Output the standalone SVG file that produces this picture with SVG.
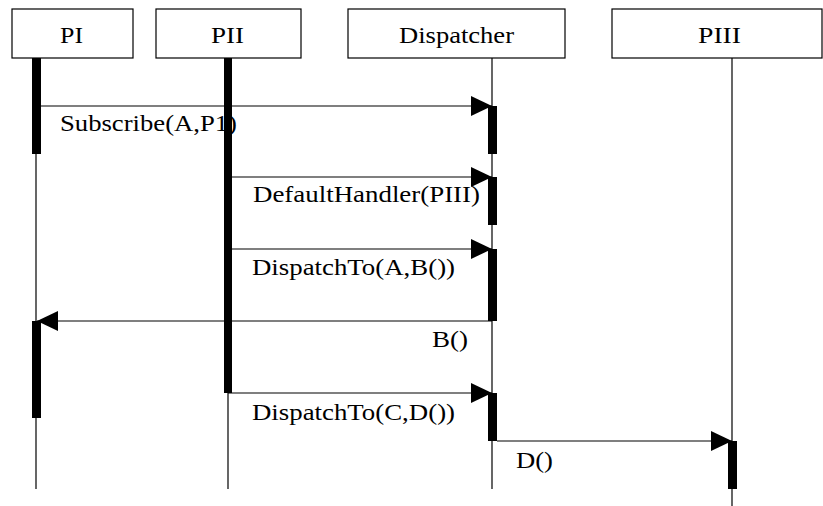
<svg xmlns="http://www.w3.org/2000/svg" width="823" height="506" viewBox="0 0 823 506">
<style>
.box{fill:#fff;stroke:#000;stroke-width:1.2}
.life{stroke:#000;stroke-width:1.2;fill:none}
.act{fill:#000}
.msg{stroke:#000;stroke-width:1.2;fill:none;marker-end:url(#ah)}
text{font-family:"Liberation Serif","Times New Roman",serif;font-size:24px;fill:#000}
</style>
<defs>
<marker id="ah" markerUnits="userSpaceOnUse" markerWidth="22" markerHeight="22" refX="21" refY="10" orient="auto" viewBox="0 0 22 20">
<path d="M0,0 L21,10 L0,20 z" fill="#000"/>
</marker>
</defs>
<rect width="823" height="506" fill="#fff"/>
<g id="PI">
<rect class="box" x="12" y="9" width="121" height="49"/>
<text x="60" y="43" textLength="23" lengthAdjust="spacingAndGlyphs">PI</text>
<line class="life" x1="36" y1="58" x2="36" y2="489"/>
<rect class="act" x="32" y="58" width="9" height="96"/>
<rect class="act" x="32" y="321" width="9" height="97"/>
</g>
<g id="PII">
<rect class="box" x="156" y="9" width="145" height="49"/>
<text x="211" y="43" textLength="33" lengthAdjust="spacingAndGlyphs">PII</text>
<line class="life" x1="228" y1="58" x2="228" y2="489"/>
<rect class="act" x="224" y="58" width="8" height="335"/>
</g>
<g id="Dispatcher">
<rect class="box" x="348" y="9" width="217" height="49"/>
<text x="399" y="43" textLength="115" lengthAdjust="spacingAndGlyphs">Dispatcher</text>
<line class="life" x1="492" y1="58" x2="492" y2="489"/>
<rect class="act" x="488" y="106" width="9" height="48"/>
<rect class="act" x="488" y="177" width="9" height="48"/>
<rect class="act" x="488" y="249" width="9" height="72"/>
<rect class="act" x="488" y="393" width="9" height="48"/>
</g>
<g id="PIII">
<rect class="box" x="612" y="9" width="210" height="49"/>
<text x="698" y="43" textLength="43" lengthAdjust="spacingAndGlyphs">PIII</text>
<line class="life" x1="732" y1="58" x2="732" y2="506"/>
<rect class="act" x="728" y="441" width="9" height="48"/>
</g>
<g id="connectors">
<line class="msg" x1="41" y1="106" x2="492" y2="106"/>
<text x="60" y="131" textLength="177" lengthAdjust="spacingAndGlyphs">Subscribe(A,P1)</text>
<line class="msg" x1="232" y1="177" x2="492" y2="177"/>
<text x="253" y="202" textLength="227" lengthAdjust="spacingAndGlyphs">DefaultHandler(PIII)</text>
<line class="msg" x1="232" y1="249" x2="492" y2="249"/>
<text x="252" y="275" textLength="203" lengthAdjust="spacingAndGlyphs">DispatchTo(A,B())</text>
<line class="msg" x1="492" y1="321" x2="37" y2="321"/>
<text x="432" y="347" textLength="36" lengthAdjust="spacingAndGlyphs">B()</text>
<line class="msg" x1="228" y1="393" x2="492" y2="393"/>
<text x="252" y="420" textLength="203" lengthAdjust="spacingAndGlyphs">DispatchTo(C,D())</text>
<line class="msg" x1="497" y1="441" x2="732" y2="441"/>
<text x="516" y="468" textLength="37" lengthAdjust="spacingAndGlyphs">D()</text>
</g>
</svg>
